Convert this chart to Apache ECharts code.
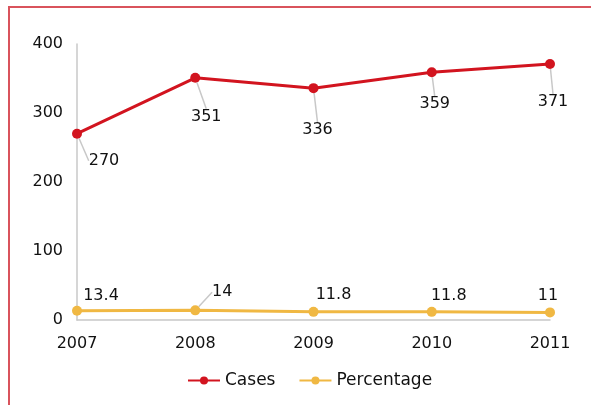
<!DOCTYPE html>
<html>
<head>
<meta charset="utf-8">
<script src="https://cdn.jsdelivr.net/npm/echarts@6/dist/echarts.min.js"></script>
<style>
  html, body { margin: 0; padding: 0; background: #fff; }
  #frame { position: absolute; left: 8px; top: 6px; width: 620px; height: 440px;
           border-left: 2px solid #d9535c; border-top: 2px solid #d9535c; box-sizing: border-box; }
  #chart { position: absolute; left: 0; top: 0; width: 591px; height: 405px; }
</style>
</head>
<body>
<div id="frame"></div>
<div id="chart"></div>
<script>
const years = ['2007', '2008', '2009', '2010', '2011'];
const cases = [270, 351, 336, 359, 371];
const percentage = [13.4, 14, 11.8, 11.8, 11];
const yTicks = [0, 100, 200, 300, 400];

// label offsets (style, not data): [dx, dy, showLine]
const casesLabelOffsets = [[27, 27, true], [11, 39, true], [4, 42, true], [3, 32, true], [3, 38, true]];
const pctLabelOffsets = [[24, -15, false], [27, -18, true], [20, -17, false], [17, -16, false], [-2, -17, false]];

const FONT = '"DejaVu Sans", Verdana, sans-serif';
const chart = echarts.init(document.getElementById('chart'), null, { renderer: 'canvas' });

function layoutFor(offsets) {
  return function (params) {
    const o = offsets[params.dataIndex];
    const cx = params.rect.x + params.rect.width / 2;
    const cy = params.rect.y + params.rect.height / 2;
    return { x: cx + o[0], y: cy + o[1], align: 'center', verticalAlign: 'middle' };
  };
}
function withLines(values, offsets) {
  return values.map((v, i) => ({ value: v, labelLine: { show: offsets[i][2] } }));
}

chart.setOption({
  animation: false,
  textStyle: { fontFamily: FONT },
  grid: { left: 77, right: 41, top: 44, bottom: 85, containLabel: false },
  legend: {
    top: 367,
    left: 182,
    itemWidth: 32,
    itemHeight: 10,
    itemGap: 23,
    textStyle: { fontFamily: FONT, fontSize: 17, color: '#111' },
    data: ['Cases', 'Percentage']
  },
  xAxis: {
    type: 'category',
    data: years,
    boundaryGap: false,
    axisLine: { show: true, lineStyle: { color: '#c8c8c8', width: 1.5 } },
    axisTick: { show: false },
    axisLabel: { fontFamily: FONT, fontSize: 16, color: '#111', margin: 16 },
    splitLine: { show: false }
  },
  yAxis: {
    type: 'value',
    min: yTicks[0],
    max: yTicks[yTicks.length - 1],
    interval: 100,
    axisLine: { show: true, lineStyle: { color: '#c8c8c8', width: 1.5 } },
    axisTick: { show: false },
    axisLabel: { fontFamily: FONT, fontSize: 16, color: '#111', margin: 14 },
    splitLine: { show: false }
  },
  series: [
    {
      name: 'Cases',
      type: 'line',
      data: withLines(cases, casesLabelOffsets),
      symbol: 'circle',
      symbolSize: 10,
      itemStyle: { color: '#d2141f' },
      lineStyle: { color: '#d2141f', width: 3 },
      label: { show: true, fontFamily: FONT, fontSize: 16, color: '#111' },
      labelLine: { show: true, lineStyle: { color: '#c8c8c8', width: 1.5 } },
      labelLayout: layoutFor(casesLabelOffsets),
      z: 3
    },
    {
      name: 'Percentage',
      type: 'line',
      data: withLines(percentage, pctLabelOffsets),
      symbol: 'circle',
      symbolSize: 10,
      itemStyle: { color: '#f0b843' },
      lineStyle: { color: '#f0b843', width: 3 },
      label: { show: true, fontFamily: FONT, fontSize: 16, color: '#111' },
      labelLine: { show: true, lineStyle: { color: '#c8c8c8', width: 1.5 } },
      labelLayout: layoutFor(pctLabelOffsets),
      z: 2
    }
  ]
});
</script>
</body>
</html>
